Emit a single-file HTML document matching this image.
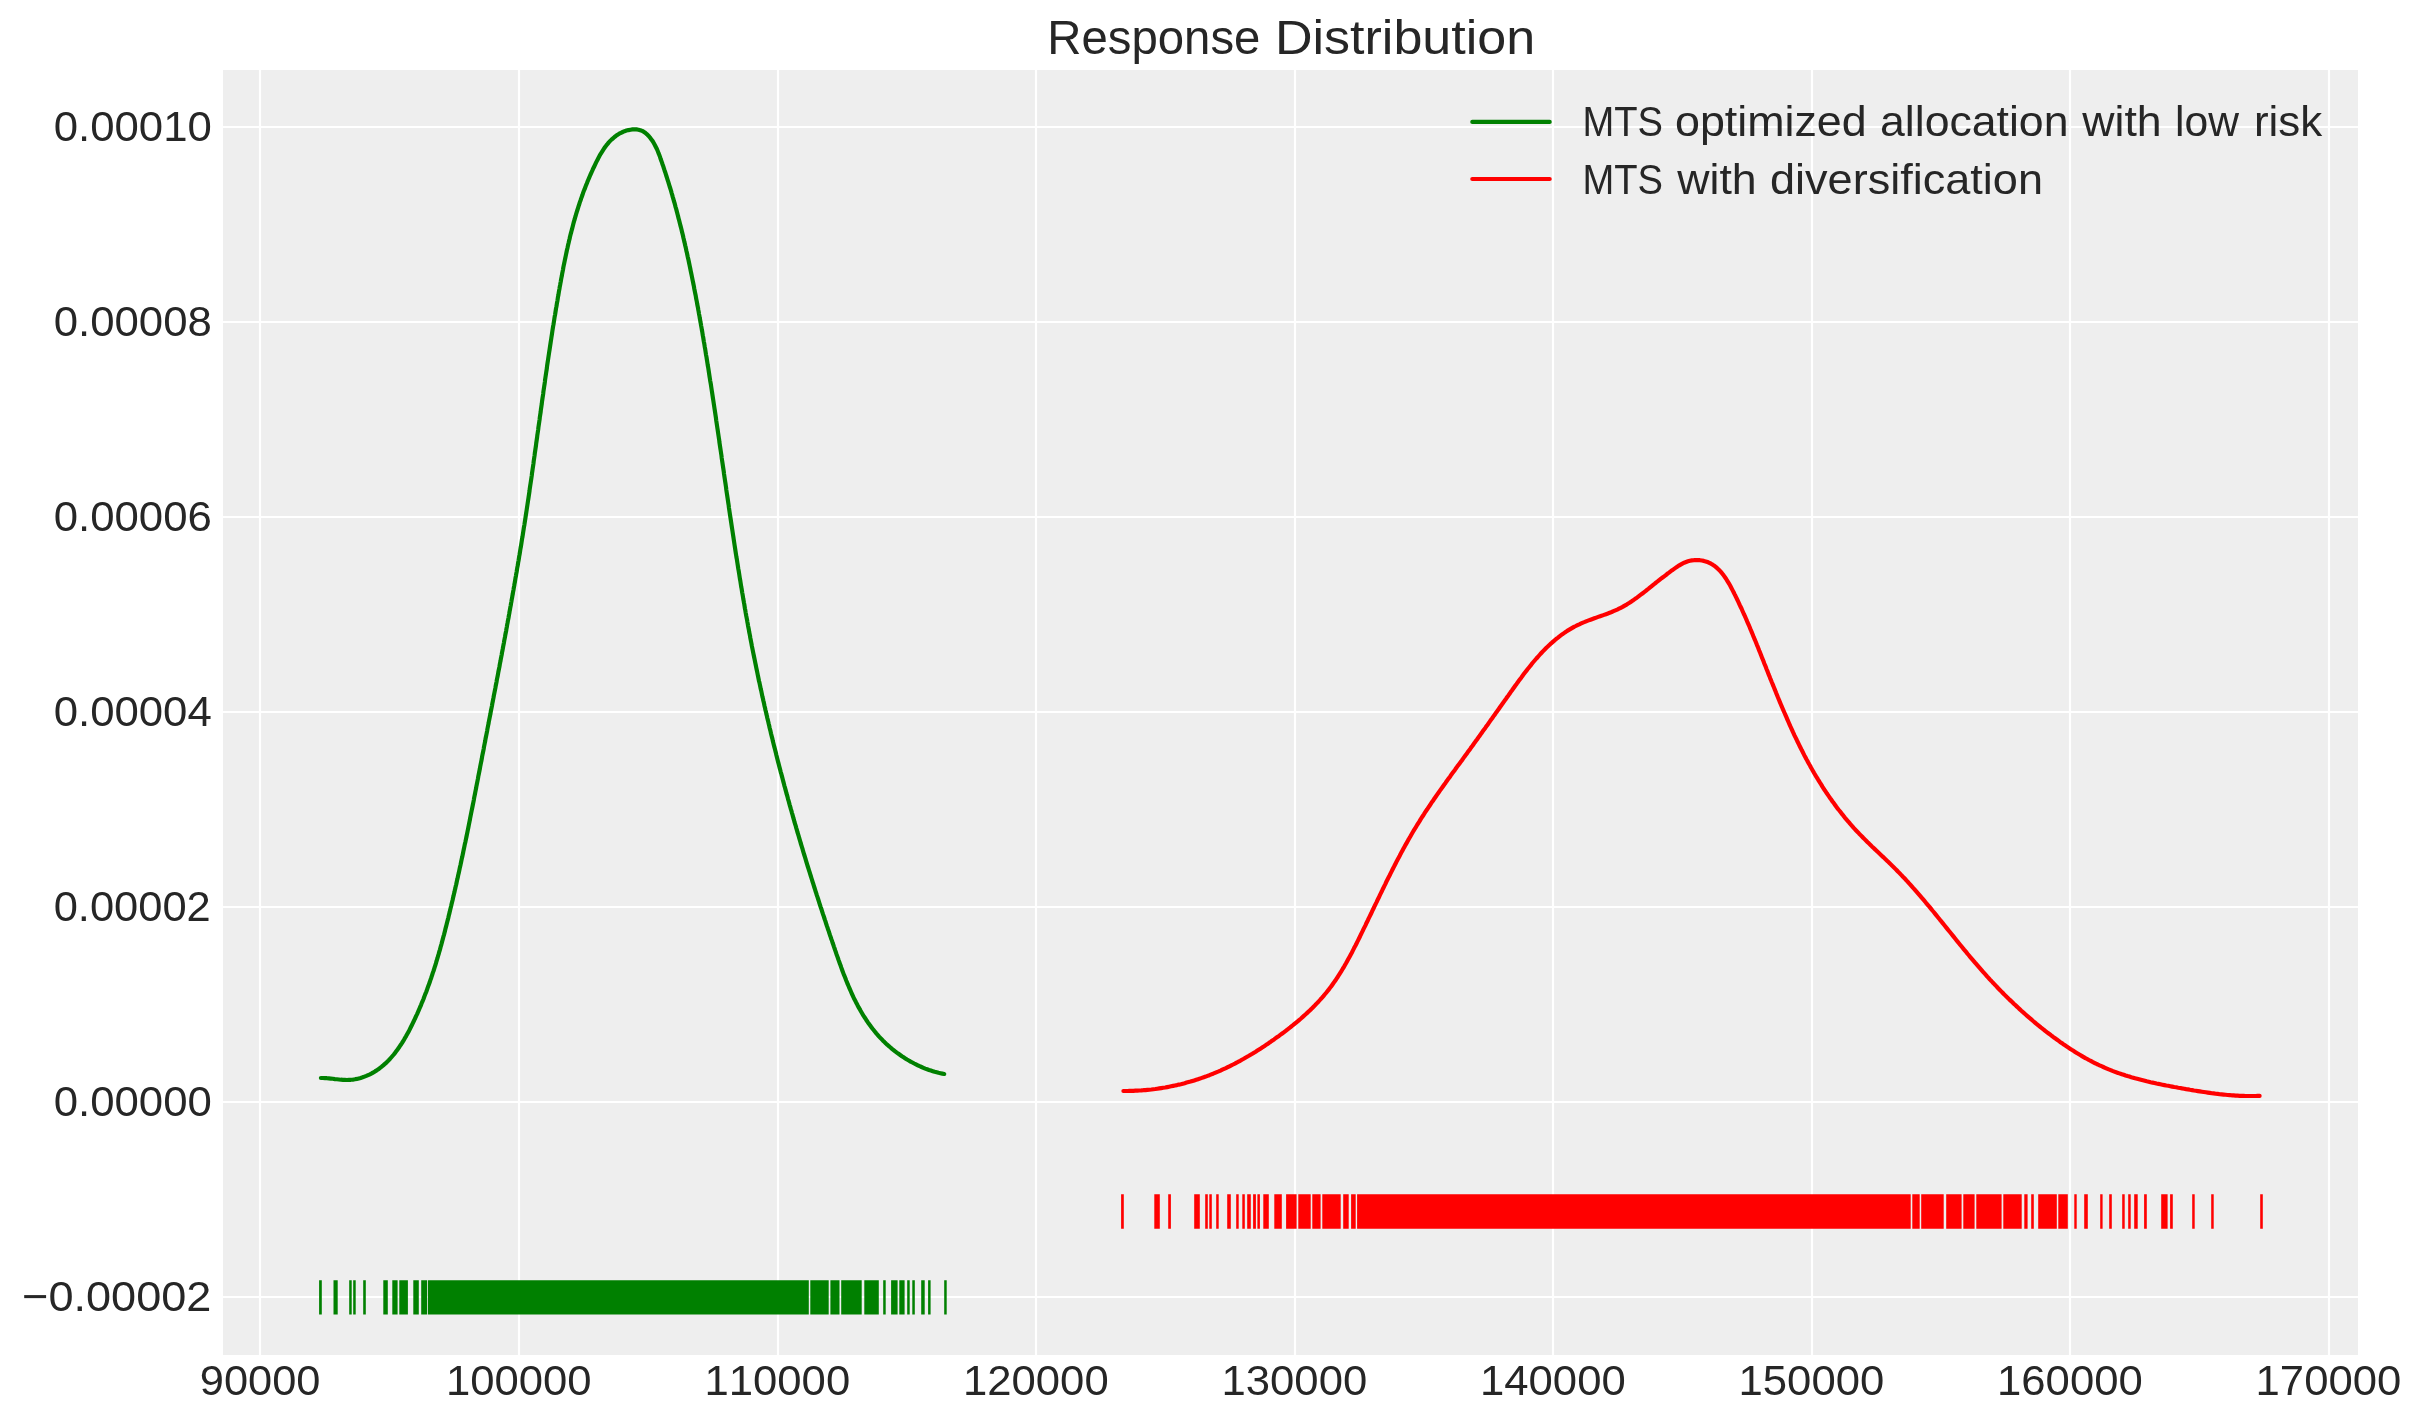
<!DOCTYPE html><html><head><meta charset="utf-8"><style>html,body{margin:0;padding:0;background:#fff;width:2423px;height:1423px;overflow:hidden}svg{display:block;will-change:transform}text{font-family:"Liberation Sans",sans-serif;font-kerning:none;fill:#262626}</style></head><body>
<svg width="2423" height="1423" viewBox="0 0 2423 1423">
<rect x="0" y="0" width="2423" height="1423" fill="#ffffff"/>
<rect x="223" y="70" width="2135" height="1285" fill="#eeeeee"/>
<path d="M260.00 70V1355M519.00 70V1355M778.00 70V1355M1036.00 70V1355M1295.00 70V1355M1553.00 70V1355M1812.00 70V1355M2070.00 70V1355M2329.00 70V1355M223 127.00H2358M223 322.00H2358M223 517.00H2358M223 712.00H2358M223 907.00H2358M223 1102.00H2358M223 1297.00H2358" stroke="#ffffff" stroke-width="2.20" fill="none"/>
<path d="M320.9 1078.0 322.9 1078.0 324.9 1078.1 326.9 1078.2 328.8 1078.4 330.8 1078.6 332.8 1078.8 334.9 1079.1 336.9 1079.3 338.9 1079.5 340.9 1079.7 342.9 1079.8 344.9 1079.9 346.9 1080.0 348.9 1079.9 350.9 1079.8 352.9 1079.6 354.9 1079.3 356.8 1078.9 358.8 1078.4 360.7 1077.9 362.6 1077.3 364.5 1076.6 366.3 1075.9 368.1 1075.1 369.9 1074.3 371.7 1073.4 373.4 1072.4 375.0 1071.4 376.7 1070.4 378.3 1069.3 379.8 1068.1 381.4 1066.9 382.9 1065.7 384.3 1064.4 385.8 1063.1 387.2 1061.8 388.6 1060.4 389.9 1059.0 391.2 1057.5 392.5 1056.0 393.8 1054.5 395.0 1052.9 396.2 1051.3 397.4 1049.7 398.6 1048.1 399.7 1046.4 400.8 1044.8 401.9 1043.1 403.0 1041.3 404.1 1039.6 405.1 1037.8 406.1 1036.1 407.1 1034.3 408.1 1032.5 409.1 1030.7 410.0 1028.8 410.9 1027.0 411.8 1025.2 412.7 1023.3 413.6 1021.5 414.5 1019.6 415.4 1017.8 416.2 1015.9 417.1 1014.1 417.9 1012.2 418.7 1010.4 419.5 1008.5 420.3 1006.6 421.1 1004.8 421.8 1002.9 422.6 1001.1 423.4 999.2 424.1 997.3 424.8 995.4 425.5 993.6 426.3 991.7 427.0 989.8 427.6 987.9 428.3 986.1 429.0 984.2 429.7 982.3 430.3 980.4 431.0 978.5 431.6 976.7 432.2 974.8 432.8 972.9 433.5 971.0 434.1 969.1 434.7 967.2 435.3 965.3 435.9 963.4 436.4 961.5 437.0 959.6 437.6 957.7 438.1 955.8 438.7 953.9 439.2 952.0 439.8 950.1 440.3 948.2 440.8 946.3 441.4 944.3 441.9 942.4 442.4 940.5 442.9 938.6 443.4 936.7 444.0 934.8 444.5 932.8 445.0 930.9 445.4 929.0 445.9 927.1 446.4 925.2 446.9 923.2 447.4 921.3 447.9 919.4 448.4 917.4 448.8 915.5 449.3 913.6 449.8 911.6 450.2 909.7 450.7 907.8 451.2 905.8 451.6 903.9 452.1 902.0 452.6 900.0 453.0 898.1 453.5 896.1 453.9 894.2 454.4 892.3 454.8 890.3 455.3 888.4 455.7 886.4 456.2 884.5 456.6 882.5 457.0 880.6 457.5 878.6 457.9 876.7 458.3 874.7 458.8 872.8 459.2 870.8 459.6 868.8 460.0 866.9 460.5 864.9 460.9 863.0 461.3 861.0 461.7 859.1 462.2 857.1 462.6 855.1 463.0 853.2 463.4 851.2 463.8 849.3 464.2 847.3 464.6 845.3 465.0 843.4 465.5 841.4 465.9 839.4 466.3 837.5 466.7 835.5 467.1 833.6 467.5 831.6 467.9 829.6 468.3 827.7 468.7 825.7 469.1 823.7 469.5 821.7 469.9 819.8 470.2 817.8 470.6 815.8 471.0 813.9 471.4 811.9 471.8 809.9 472.2 808.0 472.6 806.0 473.0 804.0 473.4 802.1 473.8 800.1 474.1 798.1 474.5 796.1 474.9 794.2 475.3 792.2 475.7 790.2 476.1 788.3 476.4 786.3 476.8 784.3 477.2 782.3 477.6 780.4 478.0 778.4 478.3 776.4 478.7 774.5 479.1 772.5 479.5 770.5 479.9 768.5 480.2 766.6 480.6 764.6 481.0 762.6 481.4 760.7 481.8 758.7 482.1 756.7 482.5 754.7 482.9 752.8 483.3 750.8 483.7 748.8 484.0 746.9 484.4 744.9 484.8 742.9 485.2 741.0 485.5 739.0 485.9 737.0 486.3 735.1 486.7 733.1 487.1 731.1 487.4 729.2 487.8 727.2 488.2 725.2 488.6 723.3 488.9 721.3 489.3 719.3 489.7 717.4 490.1 715.4 490.5 713.5 490.8 711.5 491.2 709.5 491.6 707.6 492.0 705.6 492.3 703.6 492.7 701.7 493.1 699.7 493.5 697.7 493.8 695.8 494.2 693.8 494.6 691.9 495.0 689.9 495.4 687.9 495.7 686.0 496.1 684.0 496.5 682.1 496.8 680.1 497.2 678.1 497.6 676.2 498.0 674.2 498.3 672.2 498.7 670.3 499.1 668.3 499.5 666.4 499.8 664.4 500.2 662.4 500.6 660.5 500.9 658.5 501.3 656.6 501.7 654.6 502.0 652.6 502.4 650.7 502.8 648.7 503.1 646.8 503.5 644.8 503.9 642.8 504.2 640.9 504.6 638.9 505.0 636.9 505.3 635.0 505.7 633.0 506.1 631.1 506.4 629.1 506.8 627.1 507.1 625.2 507.5 623.2 507.8 621.3 508.2 619.3 508.6 617.3 508.9 615.4 509.3 613.4 509.6 611.4 510.0 609.5 510.3 607.5 510.7 605.6 511.0 603.6 511.4 601.6 511.7 599.7 512.1 597.7 512.4 595.7 512.8 593.8 513.1 591.8 513.5 589.8 513.8 587.9 514.2 585.9 514.5 583.9 514.9 582.0 515.2 580.0 515.5 578.0 515.9 576.1 516.2 574.1 516.6 572.1 516.9 570.2 517.2 568.2 517.6 566.2 517.9 564.3 518.2 562.3 518.6 560.3 518.9 558.4 519.2 556.4 519.6 554.4 519.9 552.4 520.2 550.5 520.5 548.5 520.9 546.5 521.2 544.6 521.5 542.6 521.8 540.6 522.1 538.6 522.5 536.7 522.8 534.7 523.1 532.7 523.4 530.7 523.7 528.8 524.0 526.8 524.4 524.8 524.7 522.8 525.0 520.8 525.3 518.9 525.6 516.9 525.9 514.9 526.2 512.9 526.5 511.0 526.8 509.0 527.1 507.0 527.4 505.0 527.7 503.0 528.0 501.0 528.3 499.1 528.6 497.1 528.9 495.1 529.2 493.1 529.5 491.1 529.7 489.1 530.0 487.1 530.3 485.2 530.6 483.2 530.9 481.2 531.2 479.2 531.5 477.2 531.8 475.2 532.0 473.2 532.3 471.3 532.6 469.3 532.9 467.3 533.2 465.3 533.5 463.3 533.7 461.3 534.0 459.3 534.3 457.3 534.6 455.3 534.8 453.4 535.1 451.4 535.4 449.4 535.7 447.4 536.0 445.4 536.2 443.4 536.5 441.4 536.8 439.4 537.1 437.4 537.3 435.4 537.6 433.5 537.9 431.5 538.2 429.5 538.4 427.5 538.7 425.5 539.0 423.5 539.3 421.5 539.6 419.5 539.8 417.5 540.1 415.5 540.4 413.6 540.7 411.6 540.9 409.6 541.2 407.6 541.5 405.6 541.8 403.6 542.0 401.6 542.3 399.6 542.6 397.7 542.9 395.7 543.2 393.7 543.4 391.7 543.7 389.7 544.0 387.7 544.3 385.7 544.6 383.8 544.9 381.8 545.1 379.8 545.4 377.8 545.7 375.8 546.0 373.8 546.3 371.8 546.6 369.9 546.9 367.9 547.1 365.9 547.4 363.9 547.7 361.9 548.0 360.0 548.3 358.0 548.6 356.0 548.9 354.0 549.2 352.0 549.5 350.1 549.8 348.1 550.1 346.1 550.4 344.1 550.7 342.2 551.0 340.2 551.3 338.2 551.6 336.2 551.9 334.3 552.2 332.3 552.5 330.3 552.8 328.4 553.1 326.4 553.5 324.4 553.8 322.4 554.1 320.5 554.4 318.5 554.7 316.5 555.1 314.6 555.4 312.6 555.7 310.6 556.0 308.7 556.4 306.7 556.7 304.8 557.0 302.8 557.4 300.8 557.7 298.9 558.0 296.9 558.4 295.0 558.7 293.0 559.0 291.1 559.4 289.1 559.7 287.2 560.1 285.2 560.4 283.3 560.8 281.3 561.1 279.4 561.5 277.4 561.9 275.5 562.2 273.5 562.6 271.6 563.0 269.6 563.3 267.7 563.7 265.7 564.1 263.8 564.5 261.9 564.9 259.9 565.3 258.0 565.7 256.1 566.1 254.1 566.5 252.2 566.9 250.3 567.4 248.3 567.8 246.4 568.2 244.5 568.7 242.5 569.1 240.6 569.6 238.7 570.0 236.8 570.5 234.8 571.0 232.9 571.5 231.0 572.0 229.1 572.5 227.2 573.0 225.3 573.5 223.3 574.0 221.4 574.6 219.5 575.1 217.6 575.7 215.7 576.2 213.8 576.8 211.9 577.4 210.0 578.0 208.1 578.6 206.2 579.2 204.3 579.8 202.4 580.5 200.5 581.1 198.6 581.8 196.7 582.5 194.8 583.1 192.9 583.8 191.0 584.6 189.2 585.3 187.3 586.0 185.4 586.8 183.5 587.5 181.6 588.3 179.7 589.1 177.9 589.9 176.0 590.7 174.1 591.5 172.3 592.4 170.4 593.2 168.5 594.1 166.7 595.0 164.8 595.9 162.9 596.8 161.1 597.8 159.2 598.7 157.4 599.7 155.6 600.7 153.8 601.8 152.1 602.9 150.4 604.0 148.7 605.1 147.0 606.3 145.4 607.6 143.9 608.8 142.4 610.2 140.9 611.5 139.6 613.0 138.3 614.5 137.0 616.0 135.8 617.6 134.7 619.2 133.7 621.0 132.8 622.7 132.0 624.6 131.2 626.5 130.6 628.5 130.1 630.5 129.7 632.5 129.4 634.5 129.3 636.5 129.4 638.5 129.7 640.3 130.2 642.2 130.9 643.9 131.8 645.5 133.0 647.0 134.3 648.4 135.7 649.8 137.3 651.0 138.9 652.2 140.5 653.3 142.2 654.3 144.0 655.2 145.7 656.1 147.5 657.0 149.3 657.8 151.2 658.5 153.1 659.3 155.0 660.0 156.9 660.6 158.8 661.3 160.7 662.0 162.6 662.6 164.5 663.3 166.4 663.9 168.3 664.5 170.2 665.2 172.2 665.8 174.1 666.4 176.0 667.0 177.9 667.6 179.8 668.2 181.7 668.8 183.7 669.4 185.6 670.0 187.5 670.6 189.4 671.2 191.4 671.7 193.3 672.3 195.2 672.8 197.1 673.4 199.1 673.9 201.0 674.5 202.9 675.0 204.8 675.5 206.8 676.1 208.7 676.6 210.6 677.1 212.6 677.6 214.5 678.1 216.4 678.6 218.4 679.1 220.3 679.6 222.2 680.1 224.2 680.6 226.1 681.1 228.0 681.6 230.0 682.0 231.9 682.5 233.8 683.0 235.8 683.4 237.7 683.9 239.7 684.3 241.6 684.8 243.5 685.2 245.5 685.7 247.4 686.1 249.4 686.5 251.3 687.0 253.3 687.4 255.2 687.8 257.2 688.3 259.1 688.7 261.0 689.1 263.0 689.5 264.9 689.9 266.9 690.3 268.8 690.7 270.8 691.1 272.7 691.5 274.7 691.9 276.6 692.3 278.6 692.7 280.6 693.1 282.5 693.5 284.5 693.9 286.4 694.2 288.4 694.6 290.3 695.0 292.3 695.4 294.2 695.8 296.2 696.1 298.2 696.5 300.1 696.9 302.1 697.2 304.0 697.6 306.0 698.0 307.9 698.3 309.9 698.7 311.9 699.0 313.8 699.4 315.8 699.7 317.8 700.1 319.7 700.4 321.7 700.8 323.6 701.1 325.6 701.5 327.6 701.8 329.5 702.2 331.5 702.5 333.5 702.8 335.4 703.2 337.4 703.5 339.4 703.8 341.3 704.2 343.3 704.5 345.3 704.8 347.2 705.2 349.2 705.5 351.2 705.8 353.2 706.1 355.1 706.5 357.1 706.8 359.1 707.1 361.0 707.4 363.0 707.7 365.0 708.1 367.0 708.4 368.9 708.7 370.9 709.0 372.9 709.3 374.9 709.6 376.8 709.9 378.8 710.2 380.8 710.6 382.8 710.9 384.7 711.2 386.7 711.5 388.7 711.8 390.7 712.1 392.6 712.4 394.6 712.7 396.6 713.0 398.6 713.3 400.5 713.6 402.5 713.9 404.5 714.2 406.5 714.5 408.5 714.8 410.4 715.1 412.4 715.4 414.4 715.7 416.4 716.0 418.4 716.2 420.3 716.5 422.3 716.8 424.3 717.1 426.3 717.4 428.3 717.7 430.2 718.0 432.2 718.3 434.2 718.6 436.2 718.9 438.2 719.2 440.1 719.4 442.1 719.7 444.1 720.0 446.1 720.3 448.1 720.6 450.0 720.9 452.0 721.2 454.0 721.5 456.0 721.7 458.0 722.0 460.0 722.3 461.9 722.6 463.9 722.9 465.9 723.2 467.9 723.5 469.9 723.8 471.8 724.0 473.8 724.3 475.8 724.6 477.8 724.9 479.8 725.2 481.8 725.5 483.7 725.8 485.7 726.1 487.7 726.3 489.7 726.6 491.7 726.9 493.7 727.2 495.6 727.5 497.6 727.8 499.6 728.1 501.6 728.4 503.6 728.7 505.5 728.9 507.5 729.2 509.5 729.5 511.5 729.8 513.5 730.1 515.5 730.4 517.4 730.7 519.4 731.0 521.4 731.3 523.4 731.6 525.4 731.9 527.3 732.2 529.3 732.5 531.3 732.8 533.3 733.1 535.3 733.4 537.2 733.7 539.2 734.0 541.2 734.3 543.2 734.6 545.2 734.9 547.1 735.2 549.1 735.5 551.1 735.8 553.1 736.1 555.0 736.4 557.0 736.8 559.0 737.1 561.0 737.4 563.0 737.7 564.9 738.0 566.9 738.3 568.9 738.7 570.9 739.0 572.8 739.3 574.8 739.6 576.8 739.9 578.8 740.3 580.7 740.6 582.7 740.9 584.7 741.2 586.7 741.6 588.6 741.9 590.6 742.2 592.6 742.6 594.6 742.9 596.5 743.2 598.5 743.6 600.5 743.9 602.4 744.3 604.4 744.6 606.4 744.9 608.4 745.3 610.3 745.6 612.3 746.0 614.3 746.3 616.2 746.7 618.2 747.1 620.2 747.4 622.1 747.8 624.1 748.1 626.1 748.5 628.0 748.9 630.0 749.2 632.0 749.6 633.9 750.0 635.9 750.3 637.9 750.7 639.8 751.1 641.8 751.5 643.8 751.8 645.7 752.2 647.7 752.6 649.6 753.0 651.6 753.4 653.6 753.8 655.5 754.2 657.5 754.6 659.4 755.0 661.4 755.4 663.4 755.8 665.3 756.2 667.3 756.6 669.2 757.0 671.2 757.4 673.1 757.8 675.1 758.2 677.0 758.6 679.0 759.0 681.0 759.5 682.9 759.9 684.9 760.3 686.8 760.7 688.8 761.2 690.7 761.6 692.7 762.0 694.6 762.4 696.6 762.9 698.5 763.3 700.5 763.8 702.4 764.2 704.4 764.6 706.3 765.1 708.3 765.5 710.2 766.0 712.1 766.4 714.1 766.9 716.0 767.3 718.0 767.8 719.9 768.3 721.9 768.7 723.8 769.2 725.8 769.6 727.7 770.1 729.6 770.6 731.6 771.0 733.5 771.5 735.5 772.0 737.4 772.5 739.3 772.9 741.3 773.4 743.2 773.9 745.2 774.4 747.1 774.9 749.0 775.4 751.0 775.9 752.9 776.3 754.8 776.8 756.8 777.3 758.7 777.8 760.7 778.3 762.6 778.8 764.5 779.3 766.5 779.8 768.4 780.3 770.3 780.8 772.3 781.4 774.2 781.9 776.1 782.4 778.1 782.9 780.0 783.4 781.9 783.9 783.8 784.4 785.8 785.0 787.7 785.5 789.6 786.0 791.6 786.5 793.5 787.1 795.4 787.6 797.3 788.1 799.3 788.7 801.2 789.2 803.1 789.7 805.1 790.3 807.0 790.8 808.9 791.4 810.8 791.9 812.8 792.5 814.7 793.0 816.6 793.5 818.5 794.1 820.4 794.6 822.4 795.2 824.3 795.8 826.2 796.3 828.1 796.9 830.1 797.4 832.0 798.0 833.9 798.6 835.8 799.1 837.7 799.7 839.7 800.3 841.6 800.8 843.5 801.4 845.4 802.0 847.3 802.6 849.2 803.1 851.2 803.7 853.1 804.3 855.0 804.9 856.9 805.5 858.8 806.0 860.7 806.6 862.7 807.2 864.6 807.8 866.5 808.4 868.4 809.0 870.3 809.6 872.2 810.2 874.1 810.8 876.0 811.4 878.0 812.0 879.9 812.6 881.8 813.2 883.7 813.8 885.6 814.4 887.5 815.0 889.4 815.6 891.3 816.2 893.2 816.8 895.2 817.5 897.1 818.1 899.0 818.7 900.9 819.3 902.8 819.9 904.7 820.5 906.6 821.2 908.5 821.8 910.4 822.4 912.3 823.0 914.2 823.7 916.1 824.3 918.0 824.9 919.9 825.6 921.8 826.2 923.8 826.8 925.7 827.5 927.6 828.1 929.5 828.8 931.4 829.4 933.3 830.0 935.2 830.7 937.1 831.3 939.0 832.0 940.9 832.6 942.8 833.3 944.7 833.9 946.6 834.6 948.5 835.2 950.4 835.9 952.3 836.5 954.2 837.2 956.1 837.9 958.0 838.5 959.9 839.2 961.8 839.9 963.7 840.6 965.5 841.2 967.4 841.9 969.3 842.6 971.2 843.3 973.1 844.0 974.9 844.8 976.8 845.5 978.6 846.2 980.5 847.0 982.3 847.7 984.2 848.5 986.0 849.3 987.9 850.1 989.7 850.9 991.5 851.7 993.3 852.5 995.1 853.3 996.9 854.2 998.7 855.1 1000.4 856.0 1002.2 856.9 1003.9 857.8 1005.7 858.7 1007.4 859.7 1009.1 860.6 1010.8 861.6 1012.5 862.6 1014.2 863.6 1015.9 864.7 1017.5 865.8 1019.2 866.8 1020.8 867.9 1022.4 869.1 1024.0 870.2 1025.6 871.4 1027.2 872.6 1028.8 873.8 1030.3 875.0 1031.8 876.3 1033.4 877.6 1034.8 878.9 1036.3 880.3 1037.8 881.6 1039.2 883.0 1040.7 884.5 1042.1 885.9 1043.5 887.4 1044.8 888.9 1046.2 890.5 1047.5 892.0 1048.8 893.6 1050.1 895.2 1051.4 896.8 1052.6 898.5 1053.8 900.2 1055.0 901.9 1056.2 903.6 1057.3 905.3 1058.4 907.0 1059.5 908.8 1060.5 910.6 1061.6 912.4 1062.5 914.2 1063.5 916.0 1064.4 917.8 1065.3 919.7 1066.2 921.5 1067.0 923.4 1067.8 925.2 1068.6 927.1 1069.3 929.0 1070.0 930.9 1070.6 932.8 1071.2 934.7 1071.8 936.6 1072.3 938.5 1072.8 940.4 1073.2 942.3 1073.6 944.2 1074.0" stroke="#008000" stroke-width="4.17" fill="none" stroke-linecap="round" stroke-linejoin="round"/>
<path d="M1123.4 1091.0 1125.4 1091.0 1127.4 1091.0 1129.4 1090.9 1131.4 1090.9 1133.4 1090.8 1135.4 1090.7 1137.4 1090.6 1139.4 1090.5 1141.4 1090.4 1143.4 1090.2 1145.4 1090.1 1147.4 1089.9 1149.4 1089.7 1151.4 1089.5 1153.4 1089.2 1155.3 1089.0 1157.3 1088.7 1159.3 1088.4 1161.3 1088.1 1163.2 1087.8 1165.2 1087.5 1167.2 1087.1 1169.1 1086.7 1171.1 1086.3 1173.1 1085.9 1175.0 1085.5 1177.0 1085.1 1178.9 1084.6 1180.8 1084.2 1182.8 1083.7 1184.7 1083.2 1186.6 1082.6 1188.6 1082.1 1190.5 1081.6 1192.4 1081.0 1194.3 1080.4 1196.2 1079.8 1198.1 1079.2 1200.0 1078.6 1201.9 1077.9 1203.8 1077.2 1205.7 1076.6 1207.5 1075.9 1209.4 1075.2 1211.3 1074.4 1213.1 1073.7 1215.0 1072.9 1216.8 1072.1 1218.6 1071.4 1220.5 1070.6 1222.3 1069.7 1224.1 1068.9 1225.9 1068.1 1227.7 1067.2 1229.5 1066.3 1231.3 1065.4 1233.1 1064.5 1234.9 1063.6 1236.6 1062.7 1238.4 1061.7 1240.2 1060.8 1241.9 1059.8 1243.7 1058.8 1245.4 1057.8 1247.1 1056.8 1248.9 1055.8 1250.6 1054.8 1252.3 1053.8 1254.0 1052.7 1255.7 1051.7 1257.4 1050.6 1259.1 1049.5 1260.8 1048.4 1262.5 1047.3 1264.2 1046.2 1265.8 1045.1 1267.5 1044.0 1269.1 1042.8 1270.8 1041.7 1272.4 1040.5 1274.1 1039.4 1275.7 1038.2 1277.3 1037.0 1279.0 1035.9 1280.6 1034.7 1282.2 1033.5 1283.8 1032.3 1285.4 1031.1 1287.0 1029.8 1288.6 1028.6 1290.2 1027.4 1291.7 1026.1 1293.3 1024.9 1294.8 1023.6 1296.4 1022.3 1297.9 1021.1 1299.4 1019.8 1301.0 1018.5 1302.5 1017.2 1303.9 1015.8 1305.4 1014.5 1306.9 1013.2 1308.3 1011.8 1309.8 1010.4 1311.2 1009.1 1312.6 1007.7 1314.0 1006.3 1315.4 1004.8 1316.8 1003.4 1318.2 1002.0 1319.5 1000.5 1320.8 999.0 1322.1 997.6 1323.4 996.1 1324.7 994.5 1326.0 993.0 1327.2 991.5 1328.5 989.9 1329.7 988.3 1330.9 986.8 1332.0 985.2 1333.2 983.5 1334.3 981.9 1335.5 980.3 1336.6 978.6 1337.7 977.0 1338.7 975.3 1339.8 973.6 1340.9 971.9 1341.9 970.2 1342.9 968.5 1344.0 966.8 1345.0 965.0 1346.0 963.3 1347.0 961.5 1347.9 959.8 1348.9 958.0 1349.9 956.2 1350.8 954.5 1351.8 952.7 1352.7 950.9 1353.6 949.1 1354.5 947.3 1355.5 945.5 1356.4 943.7 1357.3 941.9 1358.2 940.1 1359.1 938.3 1360.0 936.5 1360.8 934.7 1361.7 932.9 1362.6 931.1 1363.5 929.2 1364.4 927.4 1365.3 925.6 1366.1 923.8 1367.0 922.0 1367.9 920.2 1368.7 918.4 1369.6 916.6 1370.5 914.8 1371.4 913.0 1372.2 911.1 1373.1 909.3 1374.0 907.5 1374.8 905.7 1375.7 903.9 1376.6 902.1 1377.4 900.3 1378.3 898.5 1379.2 896.7 1380.0 894.9 1380.9 893.1 1381.8 891.3 1382.6 889.5 1383.5 887.7 1384.4 885.9 1385.3 884.1 1386.1 882.3 1387.0 880.5 1387.9 878.7 1388.8 876.9 1389.7 875.2 1390.6 873.4 1391.5 871.6 1392.4 869.8 1393.3 868.0 1394.2 866.3 1395.1 864.5 1396.0 862.7 1396.9 860.9 1397.8 859.2 1398.8 857.4 1399.7 855.7 1400.6 853.9 1401.6 852.1 1402.5 850.4 1403.5 848.6 1404.4 846.9 1405.4 845.1 1406.4 843.4 1407.3 841.7 1408.3 839.9 1409.3 838.2 1410.3 836.5 1411.3 834.7 1412.3 833.0 1413.3 831.3 1414.3 829.6 1415.4 827.9 1416.4 826.2 1417.4 824.5 1418.5 822.8 1419.6 821.1 1420.6 819.4 1421.7 817.7 1422.8 816.0 1423.9 814.3 1424.9 812.6 1426.0 811.0 1427.2 809.3 1428.3 807.6 1429.4 806.0 1430.5 804.3 1431.6 802.6 1432.8 801.0 1433.9 799.3 1435.0 797.7 1436.2 796.0 1437.3 794.4 1438.5 792.7 1439.6 791.1 1440.8 789.4 1442.0 787.8 1443.1 786.2 1444.3 784.5 1445.5 782.9 1446.6 781.3 1447.8 779.6 1449.0 778.0 1450.2 776.4 1451.3 774.7 1452.5 773.1 1453.7 771.5 1454.9 769.9 1456.0 768.3 1457.2 766.6 1458.4 765.0 1459.6 763.4 1460.8 761.8 1462.0 760.2 1463.1 758.6 1464.3 756.9 1465.5 755.3 1466.7 753.7 1467.8 752.1 1469.0 750.5 1470.2 748.9 1471.3 747.3 1472.5 745.7 1473.7 744.0 1474.8 742.4 1476.0 740.8 1477.2 739.2 1478.3 737.6 1479.5 736.0 1480.6 734.4 1481.8 732.7 1482.9 731.1 1484.1 729.5 1485.3 727.9 1486.4 726.3 1487.6 724.7 1488.7 723.1 1489.9 721.4 1491.0 719.8 1492.2 718.2 1493.3 716.6 1494.5 715.0 1495.6 713.3 1496.8 711.7 1498.0 710.1 1499.1 708.5 1500.3 706.8 1501.4 705.2 1502.6 703.6 1503.7 701.9 1504.9 700.3 1506.1 698.7 1507.2 697.0 1508.4 695.4 1509.6 693.7 1510.7 692.1 1511.9 690.5 1513.1 688.8 1514.2 687.2 1515.4 685.5 1516.6 683.9 1517.8 682.2 1519.0 680.6 1520.2 679.0 1521.4 677.4 1522.6 675.7 1523.8 674.1 1525.0 672.5 1526.3 670.9 1527.5 669.3 1528.8 667.7 1530.0 666.2 1531.3 664.6 1532.5 663.0 1533.8 661.5 1535.1 660.0 1536.4 658.5 1537.8 657.0 1539.1 655.5 1540.4 654.0 1541.8 652.5 1543.1 651.1 1544.5 649.7 1545.9 648.3 1547.3 646.9 1548.8 645.5 1550.2 644.2 1551.7 642.9 1553.1 641.6 1554.6 640.3 1556.1 639.0 1557.7 637.8 1559.2 636.6 1560.8 635.4 1562.4 634.2 1564.0 633.1 1565.6 632.0 1567.2 630.9 1568.9 629.9 1570.6 628.9 1572.3 627.9 1574.0 626.9 1575.8 626.0 1577.5 625.1 1579.3 624.3 1581.2 623.4 1583.0 622.6 1584.9 621.9 1586.7 621.1 1588.6 620.4 1590.5 619.7 1592.5 619.0 1594.4 618.3 1596.3 617.6 1598.2 616.9 1600.2 616.2 1602.1 615.6 1604.0 614.9 1606.0 614.2 1607.9 613.5 1609.8 612.7 1611.7 612.0 1613.5 611.2 1615.4 610.4 1617.2 609.6 1619.0 608.7 1620.8 607.8 1622.6 606.9 1624.3 605.9 1626.1 604.9 1627.8 603.8 1629.5 602.8 1631.1 601.7 1632.8 600.6 1634.4 599.4 1636.0 598.3 1637.6 597.1 1639.2 595.9 1640.8 594.7 1642.4 593.5 1643.9 592.3 1645.5 591.1 1647.0 589.8 1648.6 588.6 1650.1 587.4 1651.7 586.1 1653.2 584.9 1654.8 583.7 1656.3 582.4 1657.9 581.2 1659.5 579.9 1661.0 578.7 1662.6 577.5 1664.2 576.3 1665.8 575.1 1667.3 573.8 1669.0 572.6 1670.6 571.4 1672.2 570.2 1673.8 569.1 1675.5 567.9 1677.2 566.7 1678.9 565.6 1680.6 564.6 1682.4 563.6 1684.2 562.7 1686.1 562.0 1688.0 561.3 1689.9 560.8 1691.9 560.4 1693.9 560.2 1695.9 560.1 1698.0 560.1 1699.9 560.2 1701.9 560.5 1703.8 560.9 1705.7 561.4 1707.5 562.0 1709.3 562.8 1711.0 563.7 1712.6 564.6 1714.2 565.7 1715.7 566.9 1717.2 568.2 1718.6 569.5 1720.0 570.9 1721.3 572.4 1722.6 574.0 1723.8 575.6 1725.0 577.3 1726.2 579.0 1727.3 580.8 1728.4 582.6 1729.5 584.4 1730.5 586.3 1731.5 588.2 1732.5 590.1 1733.5 592.0 1734.4 593.9 1735.4 595.8 1736.3 597.7 1737.2 599.5 1738.1 601.4 1739.0 603.3 1739.8 605.1 1740.7 607.0 1741.6 608.8 1742.4 610.7 1743.2 612.5 1744.0 614.3 1744.9 616.1 1745.7 618.0 1746.5 619.8 1747.2 621.6 1748.0 623.4 1748.8 625.2 1749.6 627.0 1750.3 628.8 1751.1 630.6 1751.8 632.4 1752.6 634.3 1753.3 636.1 1754.1 637.9 1754.8 639.7 1755.6 641.5 1756.3 643.3 1757.0 645.1 1757.8 646.9 1758.5 648.8 1759.2 650.6 1760.0 652.4 1760.7 654.3 1761.4 656.1 1762.1 657.9 1762.9 659.8 1763.6 661.6 1764.3 663.5 1765.1 665.3 1765.8 667.1 1766.5 669.0 1767.3 670.8 1768.0 672.7 1768.7 674.6 1769.5 676.4 1770.2 678.3 1771.0 680.1 1771.7 682.0 1772.5 683.8 1773.2 685.7 1774.0 687.5 1774.7 689.4 1775.5 691.3 1776.2 693.1 1777.0 695.0 1777.7 696.8 1778.5 698.7 1779.3 700.6 1780.0 702.4 1780.8 704.3 1781.6 706.1 1782.4 708.0 1783.2 709.8 1784.0 711.7 1784.8 713.5 1785.6 715.4 1786.4 717.2 1787.2 719.1 1788.0 720.9 1788.8 722.8 1789.6 724.6 1790.4 726.4 1791.3 728.3 1792.1 730.1 1792.9 731.9 1793.8 733.8 1794.6 735.6 1795.5 737.4 1796.4 739.2 1797.2 741.0 1798.1 742.8 1799.0 744.7 1799.9 746.5 1800.8 748.3 1801.7 750.1 1802.6 751.8 1803.5 753.6 1804.4 755.4 1805.4 757.2 1806.3 759.0 1807.3 760.7 1808.2 762.5 1809.2 764.3 1810.2 766.0 1811.1 767.8 1812.1 769.5 1813.1 771.2 1814.1 773.0 1815.1 774.7 1816.1 776.4 1817.2 778.1 1818.2 779.8 1819.3 781.5 1820.3 783.2 1821.4 784.9 1822.4 786.6 1823.5 788.3 1824.6 790.0 1825.7 791.6 1826.8 793.3 1827.9 794.9 1829.1 796.6 1830.2 798.2 1831.4 799.8 1832.5 801.5 1833.7 803.1 1834.9 804.7 1836.0 806.3 1837.2 807.9 1838.4 809.5 1839.7 811.0 1840.9 812.6 1842.1 814.2 1843.4 815.7 1844.6 817.3 1845.9 818.8 1847.2 820.3 1848.5 821.8 1849.8 823.4 1851.1 824.9 1852.4 826.3 1853.7 827.8 1855.1 829.3 1856.4 830.8 1857.8 832.2 1859.2 833.7 1860.6 835.1 1862.0 836.5 1863.4 838.0 1864.8 839.4 1866.2 840.8 1867.6 842.2 1869.1 843.6 1870.5 845.0 1871.9 846.4 1873.4 847.8 1874.8 849.1 1876.3 850.5 1877.8 851.9 1879.2 853.3 1880.7 854.7 1882.1 856.1 1883.6 857.4 1885.0 858.8 1886.5 860.2 1887.9 861.6 1889.4 863.0 1890.8 864.4 1892.2 865.8 1893.7 867.2 1895.1 868.6 1896.5 870.0 1897.9 871.5 1899.3 872.9 1900.7 874.4 1902.1 875.8 1903.5 877.3 1904.9 878.7 1906.2 880.2 1907.6 881.6 1908.9 883.1 1910.3 884.6 1911.6 886.1 1912.9 887.6 1914.3 889.1 1915.6 890.6 1916.9 892.1 1918.2 893.6 1919.5 895.1 1920.8 896.6 1922.1 898.2 1923.4 899.7 1924.7 901.2 1926.0 902.8 1927.3 904.3 1928.6 905.8 1929.9 907.4 1931.1 908.9 1932.4 910.5 1933.7 912.0 1935.0 913.6 1936.2 915.1 1937.5 916.7 1938.7 918.2 1940.0 919.8 1941.3 921.3 1942.5 922.9 1943.8 924.5 1945.0 926.0 1946.3 927.6 1947.5 929.1 1948.8 930.7 1950.1 932.3 1951.3 933.8 1952.6 935.4 1953.8 936.9 1955.1 938.5 1956.3 940.1 1957.6 941.6 1958.9 943.2 1960.1 944.7 1961.4 946.3 1962.6 947.8 1963.9 949.4 1965.2 950.9 1966.5 952.4 1967.7 954.0 1969.0 955.5 1970.3 957.1 1971.6 958.6 1972.9 960.1 1974.2 961.6 1975.5 963.2 1976.8 964.7 1978.1 966.2 1979.4 967.7 1980.7 969.2 1982.0 970.7 1983.3 972.2 1984.7 973.7 1986.0 975.1 1987.3 976.6 1988.7 978.1 1990.0 979.6 1991.4 981.0 1992.7 982.5 1994.1 983.9 1995.5 985.4 1996.9 986.8 1998.2 988.3 1999.6 989.7 2001.0 991.1 2002.4 992.5 2003.8 994.0 2005.2 995.4 2006.6 996.8 2008.1 998.2 2009.5 999.6 2010.9 1000.9 2012.4 1002.3 2013.8 1003.7 2015.3 1005.1 2016.7 1006.4 2018.2 1007.8 2019.6 1009.1 2021.1 1010.5 2022.6 1011.8 2024.1 1013.2 2025.6 1014.5 2027.1 1015.8 2028.6 1017.1 2030.1 1018.4 2031.6 1019.7 2033.1 1021.0 2034.7 1022.3 2036.2 1023.6 2037.7 1024.8 2039.3 1026.1 2040.8 1027.4 2042.4 1028.6 2044.0 1029.8 2045.5 1031.1 2047.1 1032.3 2048.7 1033.5 2050.3 1034.7 2051.9 1036.0 2053.5 1037.2 2055.1 1038.3 2056.8 1039.5 2058.4 1040.7 2060.0 1041.9 2061.7 1043.0 2063.3 1044.2 2065.0 1045.3 2066.7 1046.4 2068.3 1047.6 2070.0 1048.7 2071.7 1049.8 2073.4 1050.8 2075.1 1051.9 2076.8 1053.0 2078.5 1054.0 2080.2 1055.0 2082.0 1056.1 2083.7 1057.1 2085.4 1058.1 2087.2 1059.0 2088.9 1060.0 2090.7 1060.9 2092.5 1061.9 2094.3 1062.8 2096.0 1063.7 2097.8 1064.5 2099.6 1065.4 2101.5 1066.2 2103.3 1067.0 2105.1 1067.8 2106.9 1068.6 2108.8 1069.4 2110.6 1070.1 2112.5 1070.9 2114.3 1071.6 2116.2 1072.3 2118.0 1072.9 2119.9 1073.6 2121.8 1074.2 2123.7 1074.8 2125.6 1075.5 2127.5 1076.1 2129.4 1076.6 2131.3 1077.2 2133.2 1077.7 2135.1 1078.3 2137.1 1078.8 2139.0 1079.3 2140.9 1079.8 2142.9 1080.3 2144.8 1080.8 2146.7 1081.3 2148.7 1081.7 2150.6 1082.2 2152.6 1082.6 2154.5 1083.0 2156.5 1083.5 2158.5 1083.9 2160.4 1084.3 2162.4 1084.7 2164.4 1085.1 2166.3 1085.5 2168.3 1085.8 2170.3 1086.2 2172.2 1086.6 2174.2 1087.0 2176.2 1087.3 2178.2 1087.7 2180.1 1088.0 2182.1 1088.4 2184.1 1088.7 2186.1 1089.1 2188.0 1089.4 2190.0 1089.8 2192.0 1090.1 2194.0 1090.5 2195.9 1090.8 2197.9 1091.1 2199.9 1091.4 2201.9 1091.7 2203.8 1092.0 2205.8 1092.3 2207.8 1092.6 2209.8 1092.9 2211.8 1093.2 2213.7 1093.4 2215.7 1093.7 2217.7 1093.9 2219.7 1094.2 2221.7 1094.4 2223.7 1094.6 2225.6 1094.8 2227.6 1095.0 2229.6 1095.1 2231.6 1095.3 2233.6 1095.4 2235.6 1095.6 2237.6 1095.7 2239.6 1095.8 2241.6 1095.9 2243.6 1095.9 2245.6 1096.0 2247.6 1096.0 2249.6 1096.0 2251.6 1096.0 2253.6 1096.0 2255.6 1096.0 2257.6 1095.9 2259.6 1095.8" stroke="#ff0000" stroke-width="4.17" fill="none" stroke-linecap="round" stroke-linejoin="round"/>
<path d="M319.10 1280.30H321.80V1314.40H319.10ZM333.50 1280.30H337.70V1314.40H333.50ZM349.20 1280.30H351.70V1314.40H349.20ZM353.20 1280.30H355.70V1314.40H353.20ZM363.20 1280.30H365.80V1314.40H363.20ZM383.30 1280.30H387.80V1314.40H383.30ZM392.30 1280.30H397.60V1314.40H392.30ZM399.30 1280.30H407.90V1314.40H399.30ZM413.30 1280.30H418.80V1314.40H413.30ZM421.20 1280.30H427.10V1314.40H421.20ZM427.90 1280.30H808.80V1314.40H427.90ZM810.30 1280.30H828.70V1314.40H810.30ZM830.40 1280.30H839.50V1314.40H830.40ZM841.20 1280.30H861.70V1314.40H841.20ZM864.30 1280.30H878.80V1314.40H864.30ZM883.20 1280.30H885.70V1314.40H883.20ZM891.10 1280.30H897.60V1314.40H891.10ZM899.30 1280.30H904.60V1314.40H899.30ZM907.20 1280.30H909.70V1314.40H907.20ZM912.30 1280.30H914.80V1314.40H912.30ZM921.20 1280.30H924.70V1314.40H921.20ZM928.10 1280.30H930.60V1314.40H928.10ZM944.20 1280.30H946.70V1314.40H944.20Z" fill="#008000"/>
<path d="M1121.10 1194.20H1123.80V1228.70H1121.10ZM1154.30 1194.20H1159.80V1228.70H1154.30ZM1168.20 1194.20H1170.90V1228.70H1168.20ZM1194.20 1194.20H1199.80V1228.70H1194.20ZM1205.20 1194.20H1207.80V1228.70H1205.20ZM1209.30 1194.20H1211.80V1228.70H1209.30ZM1216.20 1194.20H1218.70V1228.70H1216.20ZM1227.20 1194.20H1230.80V1228.70H1227.20ZM1236.20 1194.20H1238.70V1228.70H1236.20ZM1242.30 1194.20H1244.80V1228.70H1242.30ZM1247.20 1194.20H1250.80V1228.70H1247.20ZM1253.10 1194.20H1255.90V1228.70H1253.10ZM1257.40 1194.20H1259.90V1228.70H1257.40ZM1263.30 1194.20H1268.80V1228.70H1263.30ZM1274.30 1194.20H1281.80V1228.70H1274.30ZM1286.10 1194.20H1296.60V1228.70H1286.10ZM1298.30 1194.20H1310.70V1228.70H1298.30ZM1312.30 1194.20H1320.60V1228.70H1312.30ZM1322.30 1194.20H1340.70V1228.70H1322.30ZM1343.20 1194.20H1348.70V1228.70H1343.20ZM1351.10 1194.20H1355.70V1228.70H1351.10ZM1357.10 1194.20H1910.70V1228.70H1357.10ZM1912.30 1194.20H1919.70V1228.70H1912.30ZM1921.20 1194.20H1943.70V1228.70H1921.20ZM1946.20 1194.20H1961.60V1228.70H1946.20ZM1963.30 1194.20H1974.60V1228.70H1963.30ZM1976.30 1194.20H2001.60V1228.70H1976.30ZM2003.30 1194.20H2021.70V1228.70H2003.30ZM2024.30 1194.20H2027.60V1228.70H2024.30ZM2031.20 1194.20H2033.80V1228.70H2031.20ZM2038.20 1194.20H2056.80V1228.70H2038.20ZM2058.30 1194.20H2067.80V1228.70H2058.30ZM2074.30 1194.20H2076.70V1228.70H2074.30ZM2084.20 1194.20H2087.80V1228.70H2084.20ZM2100.20 1194.20H2102.60V1228.70H2100.20ZM2109.20 1194.20H2111.80V1228.70H2109.20ZM2122.20 1194.20H2124.70V1228.70H2122.20ZM2128.20 1194.20H2130.70V1228.70H2128.20ZM2134.20 1194.20H2137.70V1228.70H2134.20ZM2144.10 1194.20H2146.80V1228.70H2144.10ZM2161.20 1194.20H2167.60V1228.70H2161.20ZM2170.10 1194.20H2172.80V1228.70H2170.10ZM2192.20 1194.20H2194.70V1228.70H2192.20ZM2211.20 1194.20H2213.70V1228.70H2211.20ZM2260.20 1194.20H2262.80V1228.70H2260.20Z" fill="#ff0000"/>
<path d="M1472.3 121.9H1549.7" stroke="#008000" stroke-width="4.17" stroke-linecap="round"/>
<path d="M1472.3 179.0H1549.7" stroke="#ff0000" stroke-width="4.17" stroke-linecap="round"/>
<text transform="translate(1047.28 53.80) scale(1.0049 1.0250)" font-size="47.1">Response</text><text transform="translate(1274.88 53.80) scale(1.1053 1.0250)" font-size="47.1">Distribution</text>
<text transform="translate(53.68 140.90) scale(1.0621 1.0350)" font-size="41.2">0.00010</text>
<text transform="translate(53.68 335.90) scale(1.0621 1.0350)" font-size="41.2">0.00008</text>
<text transform="translate(53.68 530.90) scale(1.0621 1.0350)" font-size="41.2">0.00006</text>
<text transform="translate(53.68 725.90) scale(1.0616 1.0350)" font-size="41.2">0.00004</text>
<text transform="translate(53.69 920.90) scale(1.0552 1.0350)" font-size="41.2">0.00002</text>
<text transform="translate(53.68 1115.90) scale(1.0621 1.0350)" font-size="41.2">0.00000</text>
<text transform="translate(22.11 1310.90) scale(1.0947 1.0350)" font-size="41.2">&#8722;0.00002</text>
<text transform="translate(199.77 1395.00) scale(1.0541 1.0350)" font-size="41.2">90000</text>
<text transform="translate(445.92 1395.00) scale(1.0602 1.0350)" font-size="41.2">100000</text>
<text transform="translate(704.44 1395.00) scale(1.0602 1.0350)" font-size="41.2">110000</text>
<text transform="translate(962.96 1395.00) scale(1.0602 1.0350)" font-size="41.2">120000</text>
<text transform="translate(1221.48 1395.00) scale(1.0602 1.0350)" font-size="41.2">130000</text>
<text transform="translate(1480.00 1395.00) scale(1.0602 1.0350)" font-size="41.2">140000</text>
<text transform="translate(1738.52 1395.00) scale(1.0602 1.0350)" font-size="41.2">150000</text>
<text transform="translate(1997.04 1395.00) scale(1.0602 1.0350)" font-size="41.2">160000</text>
<text transform="translate(2255.56 1395.00) scale(1.0602 1.0350)" font-size="41.2">170000</text>
<text transform="translate(1582.42 135.70) scale(0.9268 1.0250)" font-size="41.2">MTS</text><text transform="translate(1675.03 135.70) scale(1.0872 1.0250)" font-size="41.2">optimized</text><text transform="translate(1880.03 135.70) scale(1.0828 1.0250)" font-size="41.2">allocation</text><text transform="translate(2082.20 135.70) scale(1.0845 1.0250)" font-size="41.2">with</text><text transform="translate(2175.10 135.70) scale(1.0339 1.0250)" font-size="41.2">low</text><text transform="translate(2254.00 135.70) scale(1.0656 1.0250)" font-size="41.2">risk</text>
<text transform="translate(1582.42 193.80) scale(0.9268 1.0250)" font-size="41.2">MTS</text><text transform="translate(1677.20 193.80) scale(1.0845 1.0250)" font-size="41.2">with</text><text transform="translate(1770.01 193.80) scale(1.0939 1.0250)" font-size="41.2">diversification</text>
</svg></body></html>
